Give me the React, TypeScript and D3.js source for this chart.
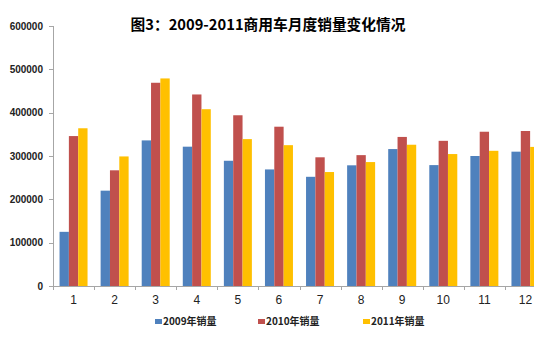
import React from "react";
import * as d3 from "d3";

const months = ["1","2","3","4","5","6","7","8","9","10","11","12"];
const sales2009 = [125000,220000,336000,321500,289000,269000,252000,278500,316000,279000,300000,310000];
const sales2010 = [346000,267000,469000,442000,394000,367600,297000,302000,344000,335000,356000,357700];
const sales2011 = [364000,299000,479000,408000,339000,325000,263000,286000,326000,304500,312000,321000];
const seriesNames = ["2009年销量","2010年销量","2011年销量"];
const colors = ["#4F81BD","#C0504D","#FFC000"];
const yTicks = [0,100000,200000,300000,400000,500000,600000];

export default function App() {
  const W = 544, H = 359;
  const left = 53, right = 546, top = 26, bottom = 286;
  const x = d3.scaleBand<string>().domain(months).range([left, right]).paddingInner(0).paddingOuter(0);
  const inner = d3.scaleBand<number>().domain([0,1,2]).range([0, 28]);
  const offset = (x.bandwidth() - 28) / 2;
  const y = d3.scaleLinear().domain([0, 600000]).range([bottom, top]);
  const series = [sales2009, sales2010, sales2011];
  const axisColor = "#A6A6A6";
  const legendX = [155, 258, 363];
  return (
    <svg width={W} height={H} style={{ position: "absolute", left: 0, top: 0, background: "#fff" }}>
      <defs>
        <clipPath id="clip"><rect x={0} y={0} width={534} height={H} /></clipPath>
      </defs>
      <text x={268} y={30} textAnchor="middle" textLength={275} lengthAdjust="spacingAndGlyphs" fontFamily="'Noto Sans CJK SC', sans-serif" fontWeight="bold" fontSize={15} fill="#000">图3：2009-2011商用车月度销量变化情况</text>
      <g clipPath="url(#clip)">
        {series.map((vals, si) =>
          vals.map((v, i) => (
            <rect key={`${si}-${i}`} x={(x(months[i]) as number) + offset + (inner(si) as number)} y={y(v)} width={inner.bandwidth()} height={bottom - y(v)} fill={colors[si]} />
          ))
        )}
        <line x1={left} x2={right} y1={bottom + 0.5} y2={bottom + 0.5} stroke={axisColor} />
        {months.map((m, i) => (
          <line key={m} x1={Math.round(x(m) as number) + 0.5} x2={Math.round(x(m) as number) + 0.5} y1={bottom} y2={bottom + 4} stroke={axisColor} />
        ))}
      </g>
      <line x1={left + 0.5} x2={left + 0.5} y1={top} y2={bottom} stroke={axisColor} />
      {yTicks.map(t => (
        <g key={t}>
          <line x1={left - 4} x2={left} y1={Math.round(y(t)) + 0.5} y2={Math.round(y(t)) + 0.5} stroke={axisColor} />
          <text x={43} y={y(t) + 3.5} textAnchor="end" fontFamily="'Liberation Sans', sans-serif" fontWeight="bold" fontSize={10} fill="#222">{t}</text>
        </g>
      ))}
      {months.map(m => (
        <text key={m} x={(x(m) as number) + x.bandwidth() / 2} y={304} textAnchor="middle" fontFamily="'Liberation Sans', sans-serif" fontSize={12} fill="#222">{m}</text>
      ))}
      {seriesNames.map((n, i) => (
        <g key={n}>
          <rect x={legendX[i]} y={319} width={7} height={5} fill={colors[i]} />
          <text x={legendX[i] + 8} y={325} fontFamily="'Noto Sans CJK SC', sans-serif" fontWeight="bold" fontSize={10} fill="#222">{n}</text>
        </g>
      ))}
    </svg>
  );
}
